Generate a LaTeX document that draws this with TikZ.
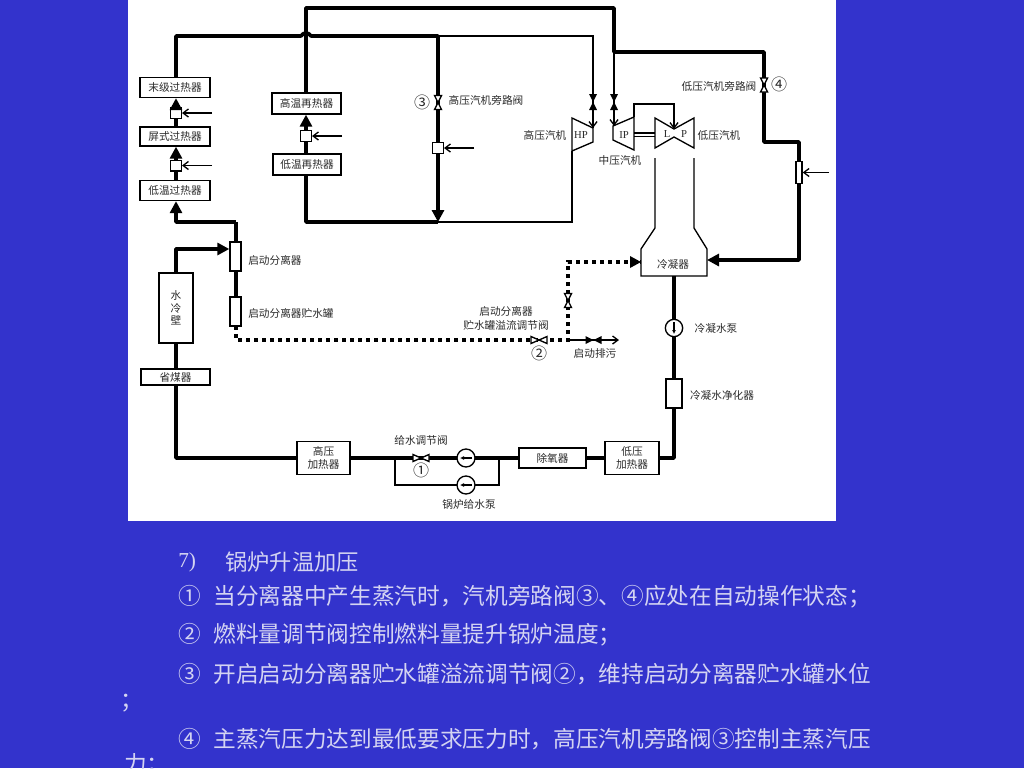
\documentclass[tikz,border=0pt]{standalone}
\usepackage{fontspec}
\setmainfont{Noto Sans CJK SC}
\newfontfamily\lat{Liberation Serif}
\usetikzlibrary{arrows.meta}
\definecolor{slide}{HTML}{3333CC}
\definecolor{slidetext}{HTML}{D4D4F2}
\definecolor{ink}{HTML}{2A2A2A}
\tikzset{
  x=0.75pt,y=-0.75pt,
  box/.style={draw=black,fill=white,line width=1pt,inner sep=0pt,align=center,font=\fontsize{8}{9.6}\selectfont,text=ink},
  sz/.style 2 args={minimum width=#1*0.75pt,minimum height=#2*0.75pt},
  smallsq/.style={draw=black,fill=white,line width=1pt,inner sep=0pt,minimum size=8pt},
  lbl/.style={inner sep=0pt,font=\fontsize{8}{9.6}\selectfont,text=ink},
  num/.style={inner sep=0pt,font=\fontsize{12}{13}\selectfont,text=ink},
  tur/.style={inner sep=0pt,font=\lat\fontsize{8}{9}\selectfont,text=ink},
  heavy/.style={line width=2.7pt,line join=round},
  thin line/.style={line width=1pt,line join=miter},
  dots/.style={line width=2.7pt,dash pattern=on 2.8pt off 3.2pt},
  head/.style={-{Triangle[length=9pt,width=9pt]}},
  barb/.style={-{Straight Barb[length=4pt,width=6pt]},line width=1pt},
  slideline/.style={anchor=west,inner sep=0pt,text=slidetext,font=\fontsize{17}{18}\selectfont},
  vvalve/.pic={\draw[fill=white,line width=1pt] (-3.5,-7)--(3.5,-7)--(-3.5,7)--(3.5,7)--cycle;},
  hvalve/.pic={\draw[fill=white,line width=1pt] (-8,-3.5)--(-8,3.5)--(8,-3.5)--(8,3.5)--cycle;},
  vsolid/.pic={\fill[black] (-4,-8)--(4,-8)--(-4,8)--(4,8)--cycle;},
  hsolid/.pic={\fill[black] (-8,-4)--(-8,4)--(8,-4)--(8,4)--cycle;},
  pumpmark/.pic={\draw[line width=1pt,-{Latex[length=3pt,width=3pt]}] (6,0)--(-6,0);},
}
\begin{document}
\begin{tikzpicture}
\useasboundingbox (0,0) rectangle (1024,768);
\fill[slide] (0,0) rectangle (1024,768);
\fill[white] (128,0) rectangle (836,521);

% equipment boxes
\node[box,sz={70}{20}] (mj) at (175,87.5) {末级过热器};
\node[box,sz={70}{19}] (pb) at (175,136.5) {屏式过热器};
\node[box,sz={70}{20}] (dg) at (175,190.5) {低温过热器};
\node[box,sz={69}{21}] (gz) at (306.5,103.5) {高温再热器};
\node[box,sz={68}{21}] (dz) at (307,164.5) {低温再热器};
\node[box,sz={34}{70}] (sl) at (176,308) {水\\冷\\壁};
\node[box,sz={69}{16}] (sm) at (175.5,377) {\raisebox{-2pt}{省煤器}};
\node[box,sz={11}{29}] (fl) at (235.5,256.5) {};
\node[box,sz={11}{29}] (cs) at (235.5,311.5) {};
\node[box,sz={53}{33}] (gj) at (323.5,458) {高压\\加热器};
\node[box,sz={67}{20}] (cy) at (552.5,458) {\raisebox{-2pt}{除氧器}};
\node[box,sz={54}{33}] (dj) at (632,458) {低压\\加热器};
\node[box,sz={16}{29}] (jh) at (674,393.5) {};
\node[box,sz={6}{22}] (ld) at (799,172.5) {};
\node[smallsq] (s1) at (176,113) {};
\node[smallsq] (s2) at (176,165.5) {};
\node[smallsq] (s3) at (306,136) {};
\node[smallsq] (s4) at (438,148) {};

% junctions
\coordinate (tl) at (176,36);
\coordinate (hopa) at (301,36);
\coordinate (hopb) at (311,36);
\coordinate (tr) at (438,36);
\coordinate (tq) at (306,8);
\coordinate (tp) at (614,8);
\coordinate (ti) at (614,52);
\coordinate (tlp) at (764,52);
\coordinate (lpa) at (764,142);
\coordinate (lpb) at (799,142);
\coordinate (cw) at (799,260);
\coordinate (brb) at (306,222);
\coordinate (brr) at (438,222);
\coordinate (hpa) at (593,36);
\coordinate (hpin) at (593,128);
\coordinate (ipin) at (614,126);
\coordinate (hpo) at (572,222);
\coordinate (hpe) at (572,151);
\coordinate (wa) at (176,222);
\coordinate (wb) at (236,222);
\coordinate (wc) at (176,249);
\coordinate (ga) at (176,458);
\coordinate (rc) at (674,458);
\coordinate (byl) at (395,458);
\coordinate (byr) at (499,458);
\coordinate (bya) at (395,485);
\coordinate (byb) at (499,485);
\coordinate (da) at (236,326);
\coordinate (db) at (236,340);
\coordinate (dc) at (568,340);
\coordinate (dd) at (568,262);
\coordinate (de) at (641,262);
\coordinate (df) at (619,340);

% turbine and condenser bodies
\draw[thin line,fill=white] (572,118)--(593,128)--(593,142)--(572,151)--cycle;
\draw[thin line,fill=white] (634,117)--(613,126)--(613,140)--(634,150)--cycle;
\draw[thin line,fill=white] (655,118)--(674,129)--(694,118)--(694,148)--(674,137)--(655,148)--cycle;
\draw[thin line] (634,133)--(655,133) (634,136.5)--(655,136.5);
\draw[thin line,-{Straight Barb[length=4pt,width=6pt]}] (634,117)--(634,104)--(674,104)--(674,129);
\draw[thin line,fill=white] (655,158)--(655,228)--(641,249)--(641,276)--(707,276)--(707,249)--(694,228)--(694,158);
\coordinate (cdw) at (641,262);
\coordinate (cde) at (707,260);
\coordinate (cdb) at (674,276);

% heavy connectors
\draw[heavy] (tl|-mj.north)--(tl)--(hopa) to[out=60,in=120,looseness=1.2] (hopb)--(tr)--(s4.north);
\draw[heavy] (tq|-gz.north)--(tq)--(tp)--(ti)--(tlp)--(lpa)--(lpb)--(ld.north);
\draw[heavy,head] (ld.south)--(cw)--(cde);
\draw[heavy,head] (s4.south)--(brr);
\draw[heavy] (tq|-dz.south)--(brb)--(brr);
\draw[heavy,head] (s1.north)--(s1|-mj.south);
\draw[heavy] (s1|-pb.north)--(s1.south);
\draw[heavy,head] (s2.north)--(s2|-pb.south);
\draw[heavy] (s2|-dg.north)--(s2.south);
\draw[heavy,head] (s3.north)--(s3|-gz.south);
\draw[heavy] (s3|-dz.north)--(s3.south);
\draw[heavy,head] (wb)--(wa)--(wa|-dg.south);
\draw[heavy] (wb|-fl.north)--(wb);
\draw[heavy] (wb|-fl.south)--(wb|-cs.north);
\draw[heavy,head] (sl.north)--(wc)--(fl.west|-wc);
\draw[heavy] (sl|-sm.north)--(sl.south);
\draw[heavy] (sl|-sm.south)--(ga)--(gj.west);
\draw[heavy] (gj.east)--(cy.west);
\draw[heavy] (cy.east)--(dj.west);
\draw[heavy] (dj.east)--(rc)--(jh.south);
\draw[heavy] (jh.north)--(cdb);

% thin connectors
\draw[thin line] (tr)--(hpa)--(hpa|-hpin);
\draw[thin line,-{Straight Barb[length=4pt,width=6pt]}] (hpa)--(hpin);
\draw[thin line,-{Straight Barb[length=4pt,width=6pt]}] (ti)--(ipin);
\draw[thin line] (brr)--(hpo)--(hpe);
\draw[thin line] (byl)--(bya)--(byb)--(byr);
\draw[barb] (212,113)--(s1.east);
\draw[barb] (212,165.5)--(s2.east);
\draw[barb] (342,136)--(s3.east);
\draw[barb] (474,148)--(s4.east);
\draw[barb] (829,172.5)--(ld.east);
\draw[barb] (dc)--(df);

% dotted connectors
\draw[dots] (da)--(db)--(dc)--(dd)--(de);
\fill[black] (630,256)--(641,262)--(630,268)--cycle;

% valves and pumps
\pic at (438,102.5) {vvalve};
\pic at (764,85) {vvalve};
\pic at (568,300.5) {vvalve};
\pic at (539,340) {hvalve};
\pic at (421,458) {hvalve};
\pic at (593,102) {vsolid};
\pic at (614,102) {vsolid};
\pic at (593.5,340) {hsolid};
\node[circle,draw=black,fill=white,line width=1pt,minimum size=13.5pt,inner sep=0pt] (p1) at (466,458) {};
\node[circle,draw=black,fill=white,line width=1pt,minimum size=13.5pt,inner sep=0pt] (p2) at (466,485) {};
\node[circle,draw=black,fill=white,line width=1pt,minimum size=13pt,inner sep=0pt] (p3) at (674,328) {};
\pic at (466,458) {pumpmark};
\pic at (466,485) {pumpmark};
\pic[rotate=90] at (674,328) {pumpmark};

% labels
\node[tur] (thp) at (581,135) {HP};
\node[tur] (tip) at (624,135) {IP};
\node[tur] (tl1) at (667,134) {L};
\node[tur] (tl2) at (684,134) {P};
\node[lbl] (a1) at (486,100) {高压汽机旁路阀};
\node[lbl] (a2) at (719,86) {低压汽机旁路阀};
\node[lbl] (a3) at (545,135) {高压汽机};
\node[lbl] (a4) at (620,160) {中压汽机};
\node[lbl] (a5) at (719,135) {低压汽机};
\node[lbl] (a6) at (673,264) {冷凝器};
\node[lbl,anchor=west] (a7) at (248,260.5) {启动分离器};
\node[lbl,anchor=west] (a8) at (248,313) {启动分离器贮水罐};
\node[lbl] (a9) at (506,311) {启动分离器};
\node[lbl] (a10) at (506,325) {贮水罐溢流调节阀};
\node[lbl] (a11) at (595,353) {启动排污};
\node[lbl] (a12) at (716,328) {冷凝水泵};
\node[lbl] (a13) at (722,395) {冷凝水净化器};
\node[lbl] (a14) at (421,440) {给水调节阀};
\node[lbl] (a15) at (469,504) {锅炉给水泵};
\node[num] (n1) at (421,470) {①};
\node[num] (n2) at (539,353) {②};
\node[num] (n3) at (422,102) {③};
\node[num] (n4) at (779,84) {④};

% slide text
\node[slideline,font=\lat\fontsize{16}{18}\selectfont] (t0) at (178,562) {7)};
\node[slideline,font=\fontsize{16.7}{18}\selectfont] (t1) at (225,562) {锅炉升温加压};
\node[slideline] (t2) at (178,597) {①\hspace{9.5pt}当分离器中产生蒸汽时，汽机旁路阀③、④应处在自动操作状态；};
\node[slideline] (t3) at (178,635) {②\hspace{9.5pt}燃料量调节阀控制燃料量提升锅炉温度；};
\node[slideline] (t4) at (178,674) {③\hspace{9.5pt}开启启动分离器贮水罐溢流调节阀②，维持启动分离器贮水罐水位};
\node[slideline] (t5) at (120,703) {；};
\node[slideline] (t6) at (178,739) {④\hspace{9.5pt}主蒸汽压力达到最低要求压力时，高压汽机旁路阀③控制主蒸汽压};
\node[slideline] (t7) at (124,765) {力；};
\end{tikzpicture}
\end{document}
